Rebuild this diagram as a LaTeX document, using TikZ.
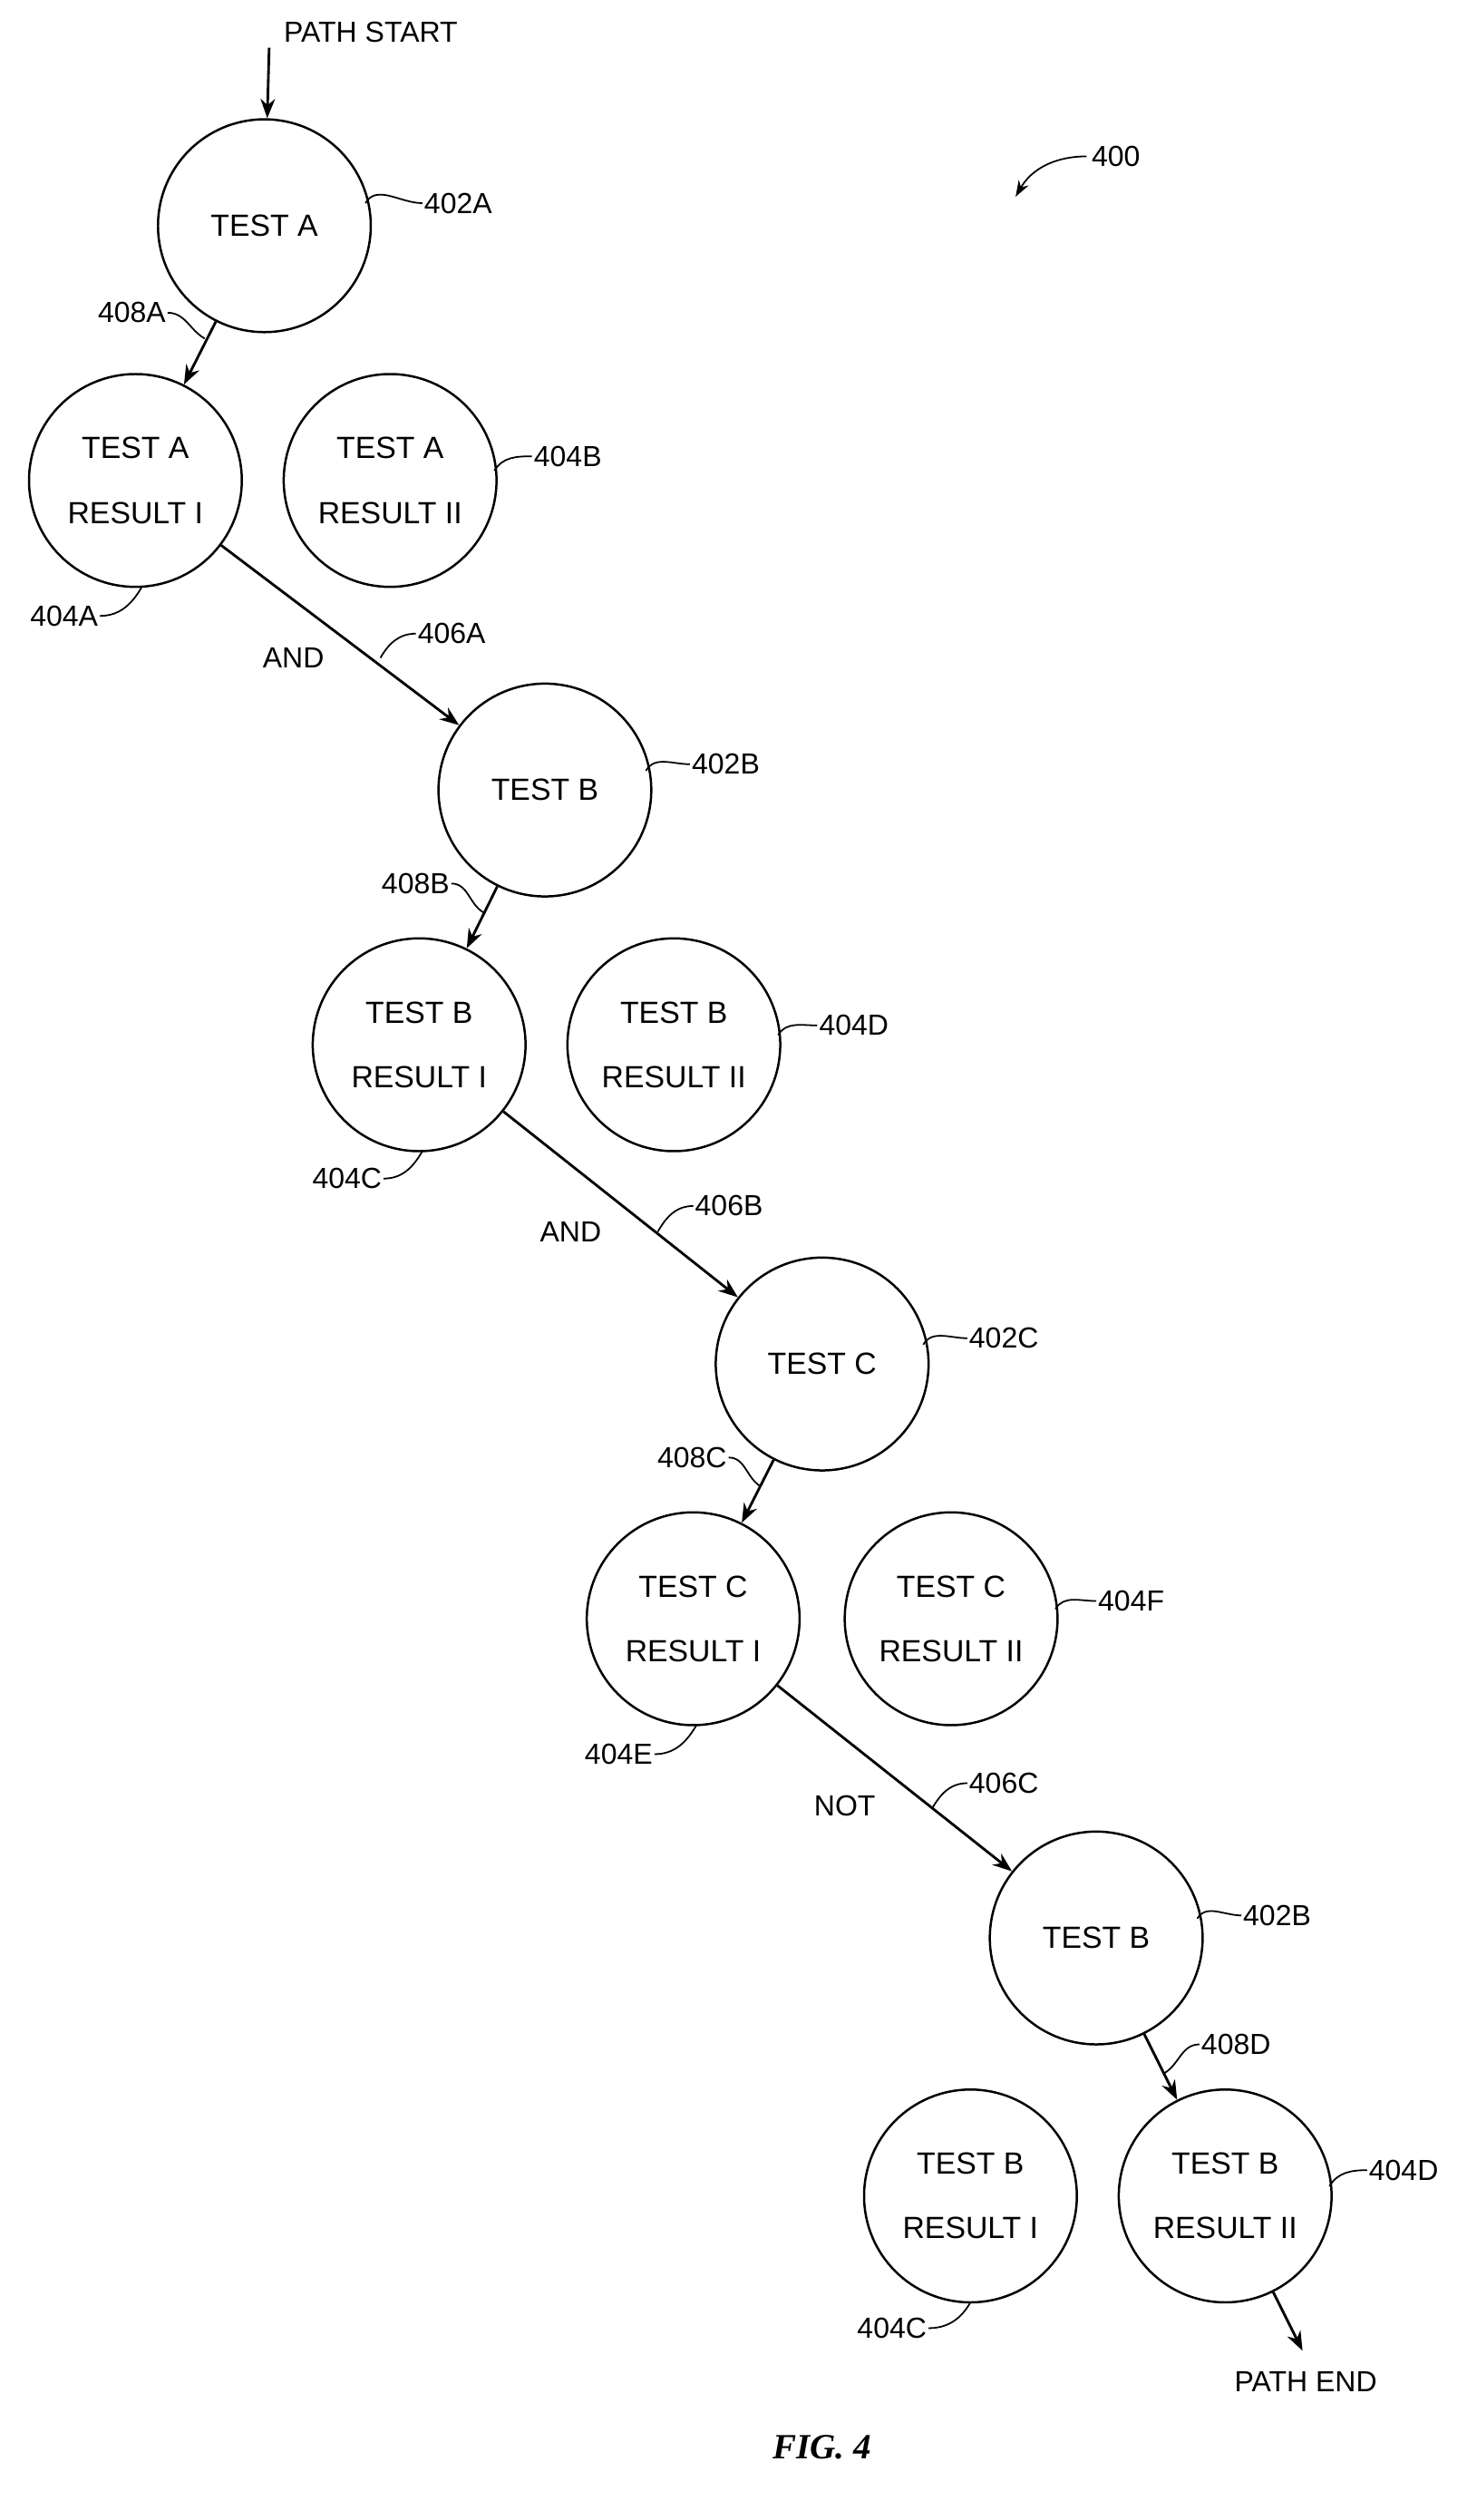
\documentclass[tikz,border=0pt]{standalone}
\usepackage{fontspec}
\setmainfont{Liberation Sans}
\newfontfamily\figfont{Liberation Serif}
\usetikzlibrary{arrows.meta}
\begin{document}
\begin{tikzpicture}[x=1pt,y=-1pt,
  circ/.style={circle,draw,line width=1.4pt,minimum size=132pt,inner sep=0pt,align=center,font=\fontsize{19}{40}\selectfont},
  lbl/.style={font=\fontsize{18}{20}\selectfont,inner sep=1pt},
  arr/.style={line width=1.6pt,-{Stealth[length=12pt,width=9pt]}},
  lead/.style={line width=1pt}]
\useasboundingbox (0,0) rectangle (910,1563);
\node[circ] (ta) at (164,140) {TEST A};
\node[circ] (ta1) at (84,298) {TEST A\\RESULT I};
\node[circ] (ta2) at (242,298) {TEST A\\RESULT II};
\node[circ] (tb) at (338,490) {TEST B};
\node[circ] (tb1) at (260,648) {TEST B\\RESULT I};
\node[circ] (tb2) at (418,648) {TEST B\\RESULT II};
\node[circ] (tc) at (510,846) {TEST C};
\node[circ] (tc1) at (430,1004) {TEST C\\RESULT I};
\node[circ] (tc2) at (590,1004) {TEST C\\RESULT II};
\node[circ] (tbb) at (680,1202) {TEST B};
\node[circ] (tbb1) at (602,1362) {TEST B\\RESULT I};
\node[circ] (tbb2) at (760,1362) {TEST B\\RESULT II};

\node[lbl] (ps) at (230,20) {PATH START};
\node[lbl] (pe) at (810,1477) {PATH END};
\draw[arr] (ps.south west)++(-8,2) coordinate (p0) -- (ta);
\draw[arr] (ta) -- (ta1);
\draw[arr] (ta1) -- (tb);
\draw[arr] (tb) -- (tb1);
\draw[arr] (tb1) -- (tc);
\draw[arr] (tc) -- (tc1);
\draw[arr] (tc1) -- (tbb);
\draw[arr] (tbb) -- (tbb2);
\coordinate (pe0) at (808,1458);
\draw[arr] (tbb2) -- (pe0);

\node[lbl] at (182,408) {AND};
\node[lbl] at (354,764) {AND};
\node[lbl] at (524,1120) {NOT};

% reference labels
\node[lbl,anchor=west] (l400) at (676,97) {400};
\draw[lead,-{Stealth[length=10pt,width=7pt]}] (674,97) to[out=180,in=60] (630,122);
\node[lbl,anchor=west] (a) at (262,126) {402A};
\draw[lead] (ta.east)++(-4,-14) to[out=60,in=180] (a.west);
\node[lbl,anchor=west] (a) at (330,283) {404B};
\draw[lead] (ta2.east)++(-2,-6) to[out=60,in=180] (a.west);
\node[lbl,anchor=east] (a) at (62,382) {404A};
\draw[lead] (a.east) to[out=0,in=-120] (88,364);
\node[lbl,anchor=east] (a) at (104,194) {408A};
\draw[lead] (a.east) to[out=0,in=150] (127,210);
\node[lbl,anchor=west] (a) at (258,393) {406A};
\draw[lead] (a.west) to[out=180,in=60] (236,408);
\node[lbl,anchor=west] (a) at (428,474) {402B};
\draw[lead] (tb.east)++(-4,-12) to[out=60,in=180] (a.west);
\node[lbl,anchor=east] (a) at (280,548) {408B};
\draw[lead] (a.east) to[out=0,in=150] (300,566);
\node[lbl,anchor=west] (a) at (507,636) {404D};
\draw[lead] (tb2.east)++(-2,-6) to[out=60,in=180] (a.west);
\node[lbl,anchor=east] (a) at (238,731) {404C};
\draw[lead] (a.east) to[out=0,in=-120] (262,714);
\node[lbl,anchor=west] (a) at (430,748) {406B};
\draw[lead] (a.west) to[out=180,in=60] (408,764);
\node[lbl,anchor=west] (a) at (600,830) {402C};
\draw[lead] (tc.east)++(-4,-12) to[out=60,in=180] (a.west);
\node[lbl,anchor=east] (a) at (452,904) {408C};
\draw[lead] (a.east) to[out=0,in=150] (472,922);
\node[lbl,anchor=west] (a) at (680,993) {404F};
\draw[lead] (tc2.east)++(-2,-6) to[out=60,in=180] (a.west);
\node[lbl,anchor=east] (a) at (406,1088) {404E};
\draw[lead] (a.east) to[out=0,in=-120] (432,1070);
\node[lbl,anchor=west] (a) at (600,1106) {406C};
\draw[lead] (a.west) to[out=180,in=60] (578,1122);
\node[lbl,anchor=west] (a) at (770,1188) {402B};
\draw[lead] (tbb.east)++(-4,-12) to[out=60,in=180] (a.west);
\node[lbl,anchor=west] (a) at (744,1268) {408D};
\draw[lead] (a.west) to[out=180,in=30] (722,1286);
\node[lbl,anchor=west] (a) at (848,1346) {404D};
\draw[lead] (tbb2.east)++(-2,-6) to[out=60,in=180] (a.west);
\node[lbl,anchor=east] (a) at (576,1444) {404C};
\draw[lead] (a.east) to[out=0,in=-120] (602,1428);

\node[font=\figfont\bfseries\itshape\fontsize{22}{24}\selectfont] (fig) at (510,1518) {FIG. 4};
\end{tikzpicture}
\end{document}
